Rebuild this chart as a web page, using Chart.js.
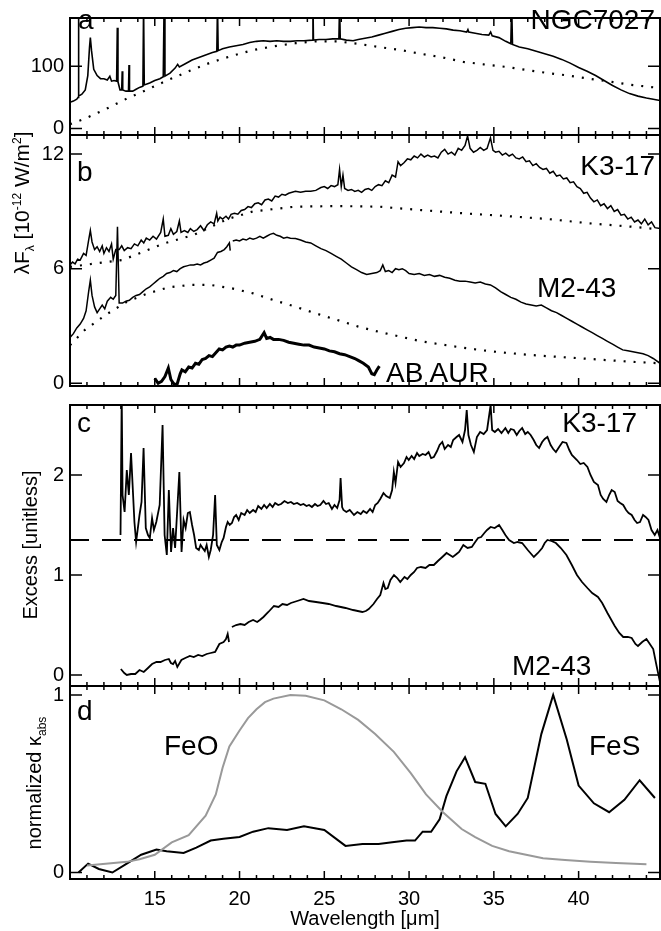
<!DOCTYPE html>
<html>
<head>
<meta charset="utf-8">
<script src="https://cdn.jsdelivr.net/npm/chart.js@4.4.0/dist/chart.umd.min.js"></script>
<style>
html, body { margin:0; padding:0; background:#fff; }
#wrap { position:relative; width:661px; height:931px; overflow:hidden; font-family:"Liberation Sans", Arial, sans-serif; color:#000; }
canvas { position:absolute; left:0; top:0; }
.lbl { position:absolute; font-size:28px; line-height:28px; white-space:nowrap; }
.ytitle { position:absolute; font-size:20px; line-height:24px; white-space:nowrap; transform:translate(-50%,-50%) rotate(-90deg); }
.ytitle sub, .ytitle sup { font-size:12px; line-height:0; }
</style>
</head>
<body>
<div id="wrap">
  <canvas id="cA" width="661" height="931"></canvas>
  <canvas id="cB" width="661" height="931"></canvas>
  <canvas id="cC" width="661" height="931"></canvas>
  <canvas id="cD" width="661" height="931"></canvas>

  <div class="lbl" style="left:78px;top:6px">a</div>
  <div class="lbl" style="right:6px;top:6px">NGC7027</div>
  <div class="lbl" style="left:77px;top:158px">b</div>
  <div class="lbl" style="right:6px;top:152px">K3-17</div>
  <div class="lbl" style="left:537px;top:274px">M2-43</div>
  <div class="lbl" style="left:386px;top:359px">AB AUR</div>
  <div class="lbl" style="left:77px;top:409px">c</div>
  <div class="lbl" style="right:24px;top:409px">K3-17</div>
  <div class="lbl" style="left:512px;top:652px">M2-43</div>
  <div class="lbl" style="left:77px;top:697px">d</div>
  <div class="lbl" style="left:164px;top:732px">FeO</div>
  <div class="lbl" style="left:589px;top:732px">FeS</div>

  <div class="ytitle" style="left:22px;top:203px;font-size:21px">λF<sub>λ</sub> [10<sup>-12</sup> W/m<sup>2</sup>]</div>
  <div class="ytitle" style="left:30px;top:545px">Excess [unitless]</div>
  <div class="ytitle" style="left:34px;top:783px">normalized κ<sub>abs</sub></div>
</div>

<script>
// wavelength axis (micron)
const waveMin = 10, waveMax = 44.8;
const waveLabels = [15, 20, 25, 30, 35, 40];

// panel a: NGC7027 spectrum and dust continuum
const ngcFlux = [[10.0,42],[10.2,44],[10.4,47],[10.48,50],[10.5,200],[10.52,52],[10.7,55],[10.9,62],[11.05,85],[11.15,130],[11.2,146],[11.27,125],[11.4,95],[11.6,85],[11.8,80],[12.0,80],[12.2,78],[12.35,84],[12.45,76],[12.6,77],[12.75,76],[12.79,162],[12.83,75],[12.95,62],[13.05,62],[13.08,92],[13.11,62],[13.3,60],[13.45,60],[13.48,102],[13.51,60],[13.7,60],[13.9,63],[14.1,66],[14.3,68],[14.34,200],[14.38,70],[14.7,73],[15.0,77],[15.3,80],[15.5,83],[15.55,200],[15.6,84],[15.9,89],[16.2,97],[16.35,103],[16.45,99],[16.8,104],[17.2,110],[17.6,114],[18.0,118],[18.4,122],[18.66,124],[18.7,200],[18.74,125],[19.0,128],[19.4,131],[19.8,133],[20.2,135],[20.6,138],[21.0,140],[21.4,141],[21.8,140],[22.2,141],[22.6,140],[23.0,140],[23.4,141],[23.8,141],[24.3,142],[24.33,200],[24.36,142],[24.7,143],[25.1,143],[25.5,144],[25.86,144],[25.9,200],[25.94,144],[26.3,142],[26.7,141],[27.0,143],[27.4,145],[27.8,147],[28.2,150],[28.6,153],[29.0,156],[29.4,159],[29.8,161],[30.2,162],[30.6,163],[31.0,162],[31.4,162],[31.8,161],[32.2,160],[32.6,158],[33.0,157],[33.4,155],[33.47,159],[33.52,155],[33.9,153],[34.3,151],[34.7,150],[34.81,155],[34.9,149],[35.3,146],[35.7,140],[36.0,136],[36.05,200],[36.1,135],[36.5,131],[37.0,128],[37.5,124],[38.0,120],[38.5,116],[39.0,111],[39.5,105],[40.0,98],[40.5,92],[41.0,85],[41.5,77],[42.0,69],[42.5,62],[43.0,56],[43.5,52],[44.0,49],[44.4,47],[44.8,45]];
const ngcCont = [[10.0,7],[10.9,16],[12.1,31],[13.35,48],[14.6,63],[15.8,78],[17.1,93],[18.3,106],[19.6,117],[20.8,126],[22.0,132],[23.3,137],[24.5,140],[25.75,140],[27.0,136],[28.2,131],[29.5,126],[30.7,120],[32.0,114],[33.2,107],[34.4,103],[35.7,99],[36.9,94],[38.2,89],[39.4,85],[40.6,80],[41.9,75],[43.1,70],[44.8,65]];

// panel b: K3-17, M2-43, AB AUR spectra (1e-12 W/m2)
const k317Flux = [[10.0,6.2],[10.15,6.35],[10.3,6.25],[10.45,6.5],[10.6,6.45],[10.8,6.8],[10.95,6.7],[11.1,7.5],[11.2,8.0],[11.3,7.4],[11.45,7.0],[11.6,7.15],[11.75,6.9],[11.9,7.2],[12.0,6.8],[12.15,7.1],[12.3,6.9],[12.45,7.3],[12.55,6.5],[12.7,7.0],[12.9,7.0],[13.05,7.2],[13.2,6.95],[13.4,7.1],[13.6,7.05],[13.8,7.3],[14.0,7.2],[14.2,7.5],[14.35,7.35],[14.5,7.6],[14.7,7.5],[14.9,7.7],[15.1,7.55],[15.35,7.9],[15.5,8.6],[15.6,7.7],[15.8,7.75],[15.95,8.1],[16.1,7.8],[16.3,7.95],[16.45,8.5],[16.55,7.9],[16.75,8.0],[16.95,7.9],[17.1,8.1],[17.3,7.95],[17.5,8.05],[17.7,8.25],[17.9,8.0],[18.1,8.3],[18.3,8.45],[18.5,8.35],[18.65,8.9],[18.72,8.5],[18.85,8.7],[19.0,8.6],[19.2,8.75],[19.35,8.6],[19.5,8.85],[19.7,8.9],[19.9,8.85],[20.1,9.05],[20.3,9.1],[20.5,9.25],[20.7,9.2],[20.9,9.4],[21.1,9.45],[21.3,9.35],[21.5,9.6],[21.7,9.65],[21.9,9.55],[22.1,9.8],[22.3,9.75],[22.5,9.9],[22.7,9.85],[22.9,9.95],[23.1,10.0],[23.3,10.05],[23.6,10.0],[23.9,10.05],[24.2,10.05],[24.5,10.1],[24.8,10.25],[25.0,10.3],[25.2,10.2],[25.4,10.35],[25.6,10.3],[25.8,10.4],[25.9,11.2],[26.0,10.3],[26.1,10.9],[26.2,10.2],[26.4,10.1],[26.6,10.15],[26.8,10.05],[27.0,10.1],[27.2,10.0],[27.4,10.15],[27.6,10.2],[27.8,10.1],[28.0,10.3],[28.2,10.4],[28.4,10.35],[28.6,10.6],[28.8,10.5],[29.0,10.9],[29.2,10.8],[29.35,11.6],[29.5,11.4],[29.7,11.55],[29.9,11.75],[30.1,11.7],[30.3,11.9],[30.5,11.8],[30.7,12.0],[30.9,11.85],[31.1,11.95],[31.3,11.85],[31.5,11.9],[31.7,11.8],[31.9,12.1],[32.1,12.25],[32.3,12.0],[32.5,12.1],[32.7,11.95],[32.9,12.3],[33.1,12.2],[33.3,12.45],[33.45,12.95],[33.6,12.3],[33.8,12.1],[34.0,12.2],[34.2,12.35],[34.4,12.2],[34.6,12.3],[34.8,12.85],[34.95,12.2],[35.1,12.1],[35.3,12.15],[35.5,11.95],[35.7,12.05],[35.9,11.9],[36.1,12.0],[36.3,11.8],[36.5,11.75],[36.7,11.85],[36.9,11.6],[37.1,11.65],[37.3,11.4],[37.5,11.5],[37.7,11.3],[37.9,11.2],[38.1,11.25],[38.3,11.0],[38.5,11.1],[38.7,10.85],[38.9,10.9],[39.1,10.7],[39.3,10.75],[39.5,10.5],[39.7,10.55],[39.9,10.3],[40.1,10.2],[40.3,9.95],[40.5,10.0],[40.7,9.7],[40.9,9.5],[41.1,9.6],[41.3,9.3],[41.5,9.4],[41.7,9.15],[41.9,9.3],[42.1,9.0],[42.3,9.1],[42.5,8.8],[42.7,8.85],[42.9,8.6],[43.1,8.7],[43.3,8.45],[43.5,8.55],[43.7,8.35],[43.9,8.6],[44.1,8.3],[44.3,8.45],[44.5,8.15],[44.8,8.1]];
const k317Cont = [[10.0,6.1],[10.87,6.2],[13.1,6.46],[15.58,7.33],[17.3,7.77],[19.3,8.6],[20.8,9.0],[23.3,9.25],[25.75,9.28],[28.2,9.25],[30.7,9.07],[33.2,8.9],[35.7,8.76],[38.2,8.6],[40.6,8.38],[43.1,8.2],[44.8,8.06]];
const m243Flux = [[10.0,2.4],[10.2,2.6],[10.4,2.9],[10.6,3.1],[10.8,3.4],[10.95,3.8],[11.1,4.8],[11.2,5.4],[11.3,4.6],[11.45,4.0],[11.6,3.7],[11.75,3.9],[11.9,4.1],[12.05,3.9],[12.2,4.3],[12.4,4.5],[12.55,4.4],[12.7,4.6],[12.8,8.2],[12.9,4.2],[13.1,4.2],[13.3,4.3],[13.5,4.35],[13.7,4.5],[13.9,4.6],[14.1,4.65],[14.3,4.8],[14.5,4.95],[14.7,5.05],[14.9,5.2],[15.1,5.35],[15.3,5.5],[15.5,5.6],[15.7,5.75],[15.9,5.8],[16.1,5.9],[16.3,5.85],[16.5,6.0],[16.7,6.1],[16.9,6.15],[17.1,6.2],[17.3,6.2],[17.5,6.25],[17.7,6.2],[17.9,6.3],[18.1,6.35],[18.3,6.45],[18.5,6.55],[18.7,6.85],[18.9,6.9],[19.1,7.0],[19.25,7.15],[19.4,7.35],[19.45,6.95],[19.5,null],[19.6,7.45],[19.8,7.5],[20.0,7.45],[20.2,7.55],[20.4,7.5],[20.6,7.6],[20.8,7.55],[21.0,7.6],[21.2,7.7],[21.4,7.6],[21.6,7.7],[21.8,7.8],[22.0,7.85],[22.2,7.75],[22.4,7.7],[22.6,7.6],[22.8,7.65],[23.0,7.6],[23.3,7.58],[23.6,7.5],[23.9,7.4],[24.2,7.35],[24.5,7.2],[24.8,7.05],[25.1,6.95],[25.4,6.8],[25.7,6.65],[26.0,6.5],[26.3,6.3],[26.6,6.1],[26.9,5.95],[27.2,5.8],[27.5,5.7],[27.8,5.75],[28.1,5.8],[28.3,5.9],[28.45,6.2],[28.6,5.85],[28.8,5.9],[29.0,5.8],[29.2,6.0],[29.4,5.95],[29.6,6.0],[29.8,5.9],[30.0,5.75],[30.3,5.7],[30.6,5.75],[30.9,5.65],[31.2,5.7],[31.5,5.6],[31.8,5.65],[32.1,5.55],[32.4,5.5],[32.7,5.4],[33.0,5.35],[33.3,5.35],[33.6,5.3],[33.9,5.25],[34.2,5.3],[34.5,5.2],[34.8,5.15],[35.1,5.0],[35.4,4.8],[35.7,4.65],[36.0,4.5],[36.3,4.4],[36.6,4.25],[36.9,4.15],[37.2,4.1],[37.5,4.05],[37.8,4.1],[38.1,3.95],[38.4,3.8],[38.7,3.7],[39.0,3.55],[39.3,3.4],[39.6,3.25],[39.9,3.1],[40.2,2.95],[40.5,2.8],[40.8,2.65],[41.1,2.5],[41.4,2.35],[41.7,2.2],[42.0,2.05],[42.3,1.9],[42.6,1.75],[42.9,1.7],[43.2,1.65],[43.5,1.6],[43.8,1.55],[44.1,1.45],[44.4,1.3],[44.8,1.05]];
const m243Cont = [[10.0,2.0],[10.87,2.79],[12.1,3.58],[13.35,4.27],[14.6,4.71],[15.83,5.03],[17.07,5.15],[18.3,5.15],[19.55,4.97],[20.8,4.71],[22.0,4.36],[23.3,4.01],[24.5,3.66],[25.75,3.32],[27.0,2.97],[28.2,2.70],[29.5,2.44],[30.7,2.2],[32.0,2.02],[33.2,1.86],[34.4,1.72],[35.7,1.6],[36.9,1.5],[38.2,1.42],[39.4,1.35],[40.6,1.28],[41.9,1.2],[43.1,1.13],[44.8,1.05]];
const abaurFlux = [[15.0,0.26],[15.2,0.0],[15.4,0.1],[15.6,0.35],[15.8,0.8],[15.95,0.2],[16.1,0.0],[16.3,-0.1],[16.5,0.5],[16.6,0.7],[16.8,0.6],[17.0,0.85],[17.2,0.8],[17.4,1.05],[17.6,1.0],[17.8,1.25],[18.0,1.3],[18.2,1.45],[18.4,1.4],[18.6,1.6],[18.8,1.8],[19.0,1.75],[19.2,1.9],[19.4,1.95],[19.6,1.9],[19.8,2.0],[20.0,2.0],[20.3,2.1],[20.6,2.15],[20.9,2.2],[21.2,2.3],[21.45,2.65],[21.6,2.35],[21.8,2.4],[22.0,2.3],[22.3,2.3],[22.6,2.25],[22.9,2.15],[23.2,2.1],[23.5,2.05],[23.8,2.0],[24.1,2.0],[24.4,1.9],[24.7,1.85],[25.0,1.8],[25.3,1.7],[25.6,1.65],[25.9,1.55],[26.2,1.5],[26.5,1.4],[26.8,1.3],[27.0,1.2],[27.3,1.05],[27.6,0.85],[27.8,0.5],[27.95,0.45],[28.1,0.7],[28.25,0.9]];

// panel c: excess over continuum
const k317Excess = [[12.98,1.40],[13.05,2.80],[13.10,1.80],[13.22,1.63],[13.35,2.05],[13.47,1.80],[13.60,2.22],[13.80,1.53],[13.90,1.33],[14.10,1.60],[14.22,1.73],[14.34,2.27],[14.47,1.47],[14.60,1.40],[14.71,1.37],[14.84,1.57],[14.95,1.45],[15.09,1.53],[15.29,1.70],[15.46,2.50],[15.58,1.40],[15.71,1.20],[15.83,1.85],[15.96,1.23],[16.08,1.47],[16.20,1.27],[16.45,2.03],[16.58,1.23],[16.70,1.55],[16.82,1.47],[16.95,1.62],[17.07,1.63],[17.20,1.50],[17.32,1.40],[17.44,1.27],[17.60,1.25],[17.70,1.30],[17.82,1.27],[17.95,1.24],[18.06,1.30],[18.19,1.18],[18.30,1.25],[18.44,1.40],[18.56,1.80],[18.66,1.30],[18.81,1.25],[18.95,1.33],[19.06,1.37],[19.20,1.48],[19.30,1.53],[19.42,1.50],[19.55,1.52],[19.68,1.58],[19.80,1.60],[19.95,1.55],[20.10,1.62],[20.30,1.60],[20.45,1.65],[20.60,1.62],[20.80,1.65],[20.95,1.63],[21.10,1.69],[21.29,1.66],[21.45,1.70],[21.60,1.67],[21.79,1.71],[21.95,1.68],[22.10,1.72],[22.28,1.70],[22.45,1.71],[22.65,1.74],[22.85,1.72],[23.03,1.73],[23.20,1.71],[23.40,1.72],[23.60,1.70],[23.77,1.71],[23.95,1.69],[24.10,1.70],[24.27,1.68],[24.45,1.71],[24.60,1.69],[24.76,1.70],[24.95,1.74],[25.10,1.71],[25.26,1.72],[25.45,1.66],[25.60,1.70],[25.76,1.67],[25.90,1.75],[25.96,1.97],[26.05,1.68],[26.13,1.65],[26.30,1.63],[26.50,1.65],[26.75,1.60],[26.95,1.63],[27.15,1.61],[27.30,1.64],[27.50,1.62],[27.70,1.66],[27.85,1.63],[28.00,1.70],[28.15,1.72],[28.30,1.76],[28.49,1.82],[28.65,1.79],[28.86,1.77],[29.00,1.85],[29.10,2.03],[29.20,1.92],[29.35,2.13],[29.50,2.08],[29.70,2.12],[29.85,2.18],[29.98,2.15],[30.15,2.19],[30.30,2.16],[30.47,2.22],[30.60,2.19],[30.80,2.21],[30.97,2.20],[31.15,2.23],[31.30,2.17],[31.46,2.18],[31.65,2.24],[31.80,2.30],[31.96,2.33],[32.10,2.26],[32.30,2.30],[32.46,2.28],[32.60,2.35],[32.80,2.38],[32.95,2.40],[33.15,2.33],[33.30,2.45],[33.40,2.65],[33.50,2.40],[33.65,2.30],[33.82,2.23],[34.00,2.38],[34.19,2.43],[34.40,2.41],[34.60,2.45],[34.81,2.70],[34.90,2.45],[35.06,2.43],[35.25,2.46],[35.45,2.42],[35.68,2.47],[35.85,2.42],[36.00,2.46],[36.18,2.45],[36.35,2.40],[36.50,2.44],[36.67,2.47],[36.85,2.41],[37.00,2.43],[37.17,2.40],[37.35,2.35],[37.50,2.30],[37.67,2.27],[37.85,2.33],[38.00,2.36],[38.16,2.38],[38.35,2.30],[38.50,2.26],[38.66,2.23],[38.85,2.28],[39.05,2.33],[39.28,2.32],[39.45,2.25],[39.60,2.20],[39.90,2.15],[40.10,2.11],[40.30,2.12],[40.52,2.08],[40.70,2.00],[40.90,1.93],[41.14,1.90],[41.30,1.80],[41.45,1.76],[41.64,1.73],[41.80,1.80],[41.95,1.85],[42.13,1.83],[42.30,1.74],[42.45,1.72],[42.63,1.70],[42.80,1.65],[42.95,1.62],[43.13,1.60],[43.30,1.55],[43.45,1.52],[43.62,1.53],[43.80,1.60],[43.95,1.58],[44.12,1.55],[44.30,1.45],[44.49,1.40],[44.65,1.45],[44.80,1.37]];
const m243Excess = [[13.00,0.06],[13.20,0.02],[13.35,0.00],[13.60,0.01],[13.85,0.01],[14.10,0.05],[14.35,0.03],[14.60,0.07],[14.84,0.11],[15.10,0.13],[15.34,0.13],[15.60,0.15],[15.83,0.16],[15.95,0.12],[16.08,0.11],[16.20,0.14],[16.33,0.08],[16.57,0.15],[16.80,0.17],[17.07,0.19],[17.30,0.18],[17.56,0.20],[17.80,0.19],[18.06,0.21],[18.30,0.22],[18.56,0.23],[18.81,0.31],[19.06,0.33],[19.20,0.36],[19.30,0.41],[19.38,0.33],[19.45,null],[19.55,0.48],[19.80,0.50],[20.05,0.51],[20.30,0.50],[20.54,0.53],[20.80,0.55],[21.04,0.53],[21.20,0.55],[21.41,0.58],[21.70,0.63],[22.03,0.69],[22.30,0.68],[22.53,0.71],[22.80,0.70],[23.03,0.72],[23.40,0.74],[23.77,0.76],[24.10,0.74],[24.51,0.73],[24.90,0.72],[25.26,0.71],[25.70,0.69],[26.25,0.67],[26.70,0.65],[27.24,0.63],[27.45,0.64],[27.62,0.66],[27.90,0.71],[28.11,0.76],[28.30,0.80],[28.49,0.92],[28.60,0.86],[28.74,0.87],[28.90,0.95],[29.11,1.00],[29.30,0.97],[29.48,0.93],[29.73,0.98],[29.90,0.96],[30.10,1.00],[30.30,1.03],[30.47,1.07],[30.70,1.08],[30.97,1.07],[31.20,1.10],[31.46,1.10],[31.70,1.14],[31.96,1.18],[32.21,1.22],[32.40,1.20],[32.58,1.18],[32.80,1.21],[32.95,1.23],[33.20,1.30],[33.45,1.27],[33.70,1.28],[33.90,1.33],[34.07,1.37],[34.25,1.38],[34.44,1.42],[34.60,1.45],[34.81,1.48],[35.05,1.47],[35.31,1.50],[35.50,1.45],[35.68,1.40],[35.90,1.35],[36.18,1.32],[36.40,1.33],[36.67,1.32],[37.00,1.25],[37.36,1.18],[37.60,1.22],[37.85,1.27],[38.00,1.32],[38.16,1.35],[38.40,1.34],[38.66,1.32],[38.95,1.27],[39.28,1.20],[39.60,1.10],[39.90,1.00],[40.20,0.93],[40.52,0.87],[40.80,0.82],[41.14,0.78],[41.39,0.72],[41.70,0.62],[42.13,0.49],[42.40,0.42],[42.63,0.38],[42.90,0.38],[43.13,0.37],[43.35,0.31],[43.50,0.29],[43.75,0.33],[44.00,0.36],[44.20,0.31],[44.40,0.26],[44.60,0.09],[44.80,-0.07]];
const excessLevel = [[10.0,1.35],[44.8,1.35]];

// panel d: normalized mass absorption coefficients
const feoKappa = [[11.0,0.04],[12.1,0.05],[13.35,0.06],[14.1,0.075],[15.0,0.10],[16.0,0.17],[17.0,0.21],[18.0,0.32],[18.6,0.44],[19.0,0.59],[19.4,0.71],[20.0,0.80],[20.5,0.87],[21.0,0.92],[21.5,0.96],[22.0,0.98],[23.0,1.0],[23.9,0.996],[25.0,0.97],[26.0,0.92],[27.0,0.86],[28.0,0.78],[29.1,0.68],[30.1,0.56],[31.0,0.44],[32.0,0.34],[33.1,0.245],[33.9,0.2],[34.9,0.15],[35.9,0.12],[36.9,0.10],[37.9,0.08],[39.2,0.07],[40.7,0.06],[42.2,0.053],[44.0,0.047]];
const fesKappa = [[10.5,0.0],[11.07,0.05],[11.7,0.02],[12.5,0.0],[13.35,0.05],[14.2,0.10],[15.1,0.13],[15.7,0.12],[16.7,0.11],[17.45,0.14],[18.3,0.18],[19.05,0.19],[20.0,0.20],[20.8,0.23],[21.7,0.25],[22.8,0.24],[23.8,0.26],[25.0,0.24],[26.25,0.15],[27.25,0.16],[28.2,0.16],[29.0,0.17],[29.85,0.18],[30.35,0.18],[30.8,0.23],[31.3,0.23],[31.8,0.30],[32.2,0.43],[32.8,0.57],[33.3,0.65],[33.9,0.51],[34.5,0.50],[35.1,0.33],[35.7,0.26],[36.4,0.33],[37.0,0.42],[37.8,0.78],[38.5,1.0],[39.3,0.75],[40.0,0.49],[40.9,0.39],[41.8,0.34],[42.7,0.41],[43.6,0.52],[44.5,0.42]];

const H = 931;
const tickFont = { family: '"Liberation Sans", Arial, sans-serif', size: 20 };
Chart.defaults.font.family = tickFont.family;
Chart.defaults.color = "#000";

function line(pairs, width, color, dash){
  return {
    data: pairs.map(p => ({x: p[0], y: p[1]})),
    borderColor: color || "#000", borderWidth: width, borderDash: dash || [],
    pointRadius: 0, tension: 0, fill: false, spanGaps: false
  };
}
const dotted = [2, 8];

// frame + inward ticks, IDL style
const frameTicks = {
  id: "frameTicks",
  afterDatasetsDraw(chart, args, opts){
    const {ctx, chartArea: a, scales: {x, y}} = chart;
    ctx.save();
    ctx.strokeStyle = "#000";
    ctx.lineWidth = 1.5;
    ctx.beginPath();
    for(let w = Math.ceil(waveMin); w <= Math.floor(waveMax); w++){
      if(w === waveMin) continue;
      const px = x.getPixelForValue(w);
      const len = w % 5 === 0 ? 8 : 4;
      ctx.moveTo(px, a.bottom); ctx.lineTo(px, a.bottom - len);
      ctx.moveTo(px, a.top); ctx.lineTo(px, a.top + len);
    }
    (opts.yTicks || []).forEach(v => {
      const py = y.getPixelForValue(v);
      ctx.moveTo(a.left, py); ctx.lineTo(a.left + 12, py);
      ctx.moveTo(a.right, py); ctx.lineTo(a.right - 12, py);
    });
    ctx.stroke();
    ctx.lineWidth = 2;
    ctx.strokeRect(a.left, a.top, a.right - a.left, a.bottom - a.top);
    ctx.restore();
  }
};

function makePanel(id, top, bottom, yMin, yMax, yTicks, datasets, showX){
  const x = { type: "linear", min: waveMin, max: waveMax, display: false };
  if(showX){
    Object.assign(x, {
      display: true,
      afterFit: s => { s.height = H - bottom; },
      afterBuildTicks: s => { s.ticks = waveLabels.map(v => ({value: v})); },
      grid: { display: false, drawTicks: false },
      border: { display: false },
      ticks: { font: tickFont, color: "#000", padding: 8, autoSkip: false, maxRotation: 0 },
      title: { display: true, text: "Wavelength [μm]", font: tickFont, color: "#000", padding: 0 }
    });
  }
  return new Chart(document.getElementById(id), {
    type: "line",
    data: { datasets },
    options: {
      responsive: false, animation: false, devicePixelRatio: 1,
      layout: { padding: { top: top, bottom: showX ? 0 : H - bottom, left: 0, right: 1 } },
      plugins: { legend: { display: false }, tooltip: { enabled: false }, frameTicks: { yTicks } },
      scales: {
        x,
        y: {
          min: yMin, max: yMax,
          afterFit: s => { s.width = 70; },
          afterBuildTicks: s => { s.ticks = yTicks.map(v => ({value: v})); },
          grid: { display: false, drawTicks: false },
          border: { display: false },
          ticks: { font: tickFont, color: "#000", padding: 6 }
        }
      }
    },
    plugins: [frameTicks]
  });
}

makePanel("cA", 8, 135, -10.5, 177.5, [0, 100], [
  line(ngcFlux, 1.6),
  line(ngcCont, 2.2, "#000", dotted)
]);
makePanel("cB", 135, 386, -0.14, 13.0, [0, 6, 12], [
  line(k317Flux, 1.5),
  line(k317Cont, 2.2, "#000", dotted),
  line(m243Flux, 1.5),
  line(m243Cont, 2.2, "#000", dotted),
  line(abaurFlux, 3)
]);
makePanel("cC", 405, 686, -0.11, 2.7, [0, 1, 2], [
  line(k317Excess, 1.8),
  line(m243Excess, 1.8),
  line(excessLevel, 1.8, "#000", [19, 13])
]);
makePanel("cD", 686, 879, -0.0366, 1.051, [0, 1], [
  line(feoKappa, 2, "#999999"),
  line(fesKappa, 2)
], true);
</script>
</body>
</html>
